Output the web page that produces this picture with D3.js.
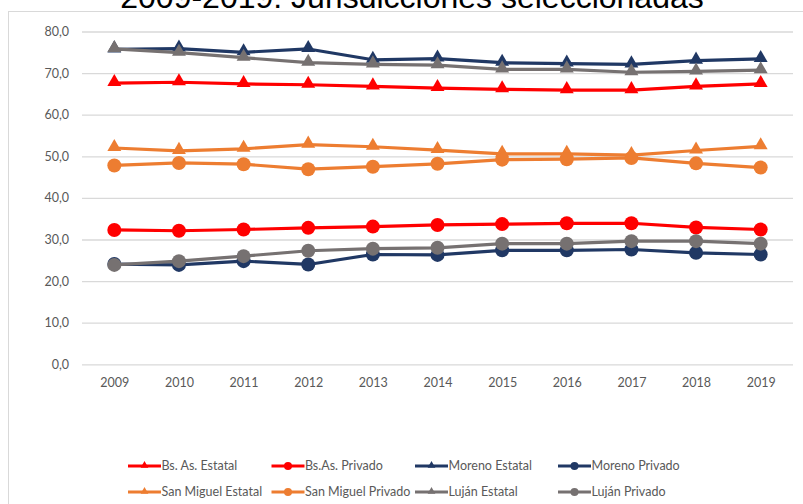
<!DOCTYPE html>
<html>
<head>
<meta charset="utf-8">
<script src="https://cdn.jsdelivr.net/npm/d3@7"></script>
<style>
  html, body { margin: 0; padding: 0; background: #fff; }
  svg { display: block; }
</style>
</head>
<body>
<svg id="chart" width="803" height="504"></svg>
<script>
const years = ["2009","2010","2011","2012","2013","2014","2015","2016","2017","2018","2019"];
const yTicks = [0, 10, 20, 30, 40, 50, 60, 70, 80];
const titleText = "2009-2019: Jurisdicciones seleccionadas";

const bsAsEstatal      = [67.6, 67.8, 67.4, 67.2, 66.8, 66.4, 66.1, 65.9, 65.9, 66.8, 67.4];
const bsAsPrivado      = [32.3, 32.1, 32.4, 32.8, 33.1, 33.5, 33.7, 33.9, 33.9, 32.9, 32.4];
const morenoEstatal    = [75.7, 75.9, 75.0, 75.8, 73.2, 73.5, 72.5, 72.3, 72.1, 73.0, 73.4];
const morenoPrivado    = [24.1, 23.9, 24.8, 24.0, 26.4, 26.3, 27.4, 27.4, 27.6, 26.8, 26.4];
const sanMiguelEstatal = [52.0, 51.3, 51.8, 52.8, 52.3, 51.5, 50.6, 50.6, 50.3, 51.4, 52.4];
const sanMiguelPrivado = [47.8, 48.4, 48.1, 46.9, 47.5, 48.2, 49.2, 49.3, 49.6, 48.3, 47.3];
const lujanEstatal     = [75.8, 74.9, 73.7, 72.5, 72.1, 71.9, 70.9, 70.9, 70.2, 70.4, 70.7];
const lujanPrivado     = [23.9, 24.8, 26.0, 27.3, 27.8, 28.0, 29.0, 29.0, 29.6, 29.6, 29.0];

const seriesNames  = ["Bs. As. Estatal", "Bs.As. Privado", "Moreno Estatal", "Moreno Privado",
                      "San Miguel Estatal", "San Miguel Privado", "Luján Estatal", "Luján Privado"];
const seriesValues = [bsAsEstatal, bsAsPrivado, morenoEstatal, morenoPrivado,
                      sanMiguelEstatal, sanMiguelPrivado, lujanEstatal, lujanPrivado];
const seriesColors = ["#FF0000", "#FF0000", "#203864", "#203864",
                      "#ED7D31", "#ED7D31", "#767171", "#767171"];
const seriesShapes = ["triangle", "circle", "triangle", "circle",
                      "triangle", "circle", "triangle", "circle"];

const series = seriesNames.map((n, i) => ({
  name: n, values: seriesValues[i], color: seriesColors[i], shape: seriesShapes[i]
}));

const svg = d3.select("#chart");

// outer chart border
svg.append("rect")
  .attr("x", 8.5).attr("y", 11.5)
  .attr("width", 820).attr("height", 520)
  .attr("fill", "#fff").attr("stroke", "#D9D9D9").attr("stroke-width", 1);

// title (partially cut at top, as in the reference)
svg.append("text")
  .attr("x", 412).attr("y", 8)
  .attr("text-anchor", "middle")
  .attr("font-family", "Liberation Sans, Arial, sans-serif")
  .attr("font-size", 32)
  .attr("fill", "#000")
  .text(titleText);

const x = d3.scalePoint().domain(years).range([82, 793]).padding(0.5);
const y = d3.scaleLinear().domain([0, 80]).range([364.3, 31.5]);

// gridlines + y labels
const yAxis = d3.axisLeft(y).tickValues(yTicks)
  .tickSize(-(793 - 82))
  .tickPadding(13)
  .tickFormat(d => d3.format(".1f")(d).replace(".", ","));
const gy = svg.append("g").attr("transform", "translate(82,0)").call(yAxis);
gy.select(".domain").remove();
gy.selectAll(".tick line").attr("stroke", "#D9D9D9").attr("stroke-width", 1.3);
gy.selectAll(".tick text")
  .attr("fill", "#595959")
  .attr("font-family", "Lato, Carlito, Calibri, sans-serif")
  .attr("font-size", 12.5);

const xAxis = d3.axisBottom(x).tickSize(0).tickPadding(14);
const gx = svg.append("g").attr("transform", "translate(0,364.3)").call(xAxis);
gx.select(".domain").remove();
gx.selectAll(".tick text")
  .attr("fill", "#595959")
  .attr("font-family", "Lato, Carlito, Calibri, sans-serif")
  .attr("font-size", 12.5);

const line = d3.line().x((d, i) => x(years[i])).y(d => y(d));
const triBig = d3.symbol().type(d3.symbolTriangle).size(84);
const triSmall = d3.symbol().type(d3.symbolTriangle).size(26);

series.forEach(s => {
  const g = svg.append("g");
  g.append("path")
    .attr("d", line(s.values))
    .attr("fill", "none")
    .attr("stroke", s.color)
    .attr("stroke-width", 3.2)
    .attr("stroke-linejoin", "round");
  s.values.forEach((v, i) => {
    if (s.shape === "circle") {
      g.append("circle")
        .attr("cx", x(years[i])).attr("cy", y(v)).attr("r", 7)
        .attr("fill", s.color);
    } else {
      g.append("path")
        .attr("d", triBig())
        .attr("transform", `translate(${x(years[i])},${y(v) - 1})`)
        .attr("fill", s.color);
    }
  });
});

// legend
const legendCols = [128, 271.5, 415, 558];
const legendRows = [466, 492];
series.forEach((s, i) => {
  const lx = legendCols[i % 4];
  const ly = legendRows[Math.floor(i / 4)];
  const g = svg.append("g").attr("transform", `translate(${lx},${ly})`);
  g.append("line").attr("x1", 0).attr("x2", 33).attr("y1", 0).attr("y2", 0)
    .attr("stroke", s.color).attr("stroke-width", 3.2);
  if (s.shape === "circle") {
    g.append("circle").attr("cx", 16.5).attr("cy", 0).attr("r", 4).attr("fill", s.color);
  } else {
    g.append("path").attr("d", triSmall()).attr("transform", "translate(16.5,-0.5)").attr("fill", s.color);
  }
  g.append("text")
    .attr("x", 33.5).attr("y", 0).attr("dy", "0.35em")
    .attr("fill", "#595959")
    .attr("font-family", "Lato, Carlito, Calibri, sans-serif")
    .attr("font-size", 12.5)
    .text(s.name);
});
</script>
</body>
</html>
